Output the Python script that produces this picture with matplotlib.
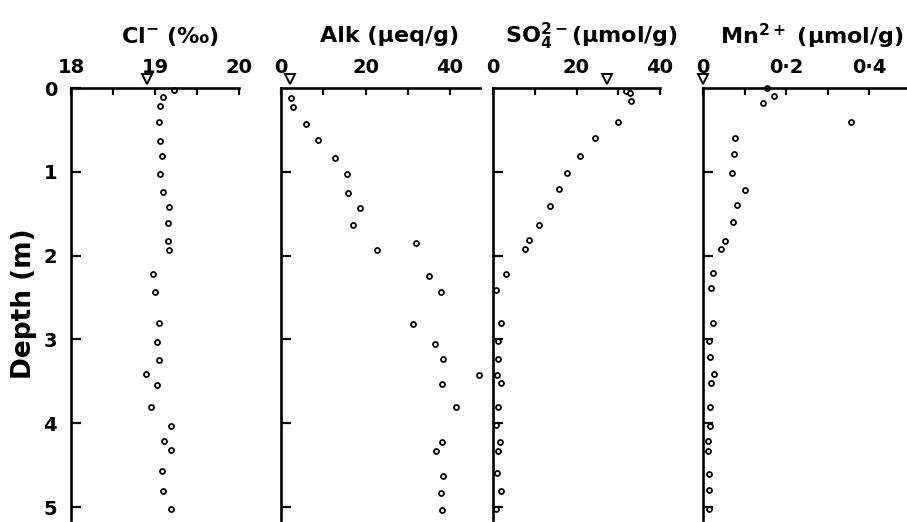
import matplotlib.pyplot as plt

plt.rcParams['font.family'] = ['DejaVu Sans']
plt.rcParams['font.weight'] = 'bold'
plt.rcParams['axes.labelweight'] = 'bold'
plt.rcParams['mathtext.fontset'] = 'dejavusans'
plt.rcParams['mathtext.default'] = 'bf'

# pore water profiles, depth in m
cl_depth = [0.02, 0.11, 0.21, 0.41, 0.63, 0.81, 1.03, 1.24, 1.42, 1.61, 1.83, 1.93,
            2.22, 2.44, 2.81, 3.03, 3.24, 3.41, 3.54, 3.81, 4.03, 4.21, 4.32, 4.57, 4.81, 5.02]
cl_val = [19.23, 19.10, 19.06, 19.05, 19.06, 19.08, 19.06, 19.10, 19.17, 19.15, 19.15, 19.17,
          18.98, 19.00, 19.05, 19.02, 19.05, 18.89, 19.02, 18.95, 19.19, 19.11, 19.19, 19.08, 19.10, 19.19]

alk_depth = [0.12, 0.23, 0.43, 0.62, 0.84, 1.03, 1.25, 1.43, 1.64, 1.85, 1.93,
             2.24, 2.43, 2.82, 3.05, 3.23, 3.43, 3.53, 3.81, 4.22, 4.33, 4.63, 4.83, 5.03]
alk_val = [2.3, 2.9, 5.8, 8.8, 12.8, 15.6, 15.8, 18.6, 17.0, 32.0, 22.8,
           35.0, 37.9, 31.3, 36.4, 38.4, 46.9, 38.1, 41.5, 38.2, 36.6, 38.3, 37.9, 38.0]

so4_depth = [0.03, 0.06, 0.16, 0.40, 0.60, 0.81, 1.01, 1.21, 1.41, 1.63, 1.81, 1.92,
             2.22, 2.41, 2.80, 3.02, 3.23, 3.42, 3.52, 3.81, 4.02, 4.22, 4.33, 4.59, 4.81, 5.02]
so4_val = [31.9, 32.7, 33.0, 29.9, 24.5, 20.9, 17.8, 15.8, 13.7, 10.9, 8.7, 7.7,
           3.0, 0.6, 1.8, 1.2, 1.3, 1.0, 1.9, 1.1, 0.6, 1.6, 1.2, 1.0, 1.8, 0.6]

mn_depth = [0.0, 0.10, 0.18, 0.40, 0.60, 0.79, 1.01, 1.22, 1.40, 1.60, 1.82, 1.92,
            2.21, 2.39, 2.81, 3.02, 3.21, 3.41, 3.52, 3.81, 4.03, 4.21, 4.33, 4.61, 4.80, 5.02]
mn_val = [0.155, 0.170, 0.145, 0.357, 0.078, 0.075, 0.070, 0.100, 0.082, 0.073, 0.053, 0.044,
          0.024, 0.020, 0.025, 0.015, 0.018, 0.026, 0.019, 0.018, 0.018, 0.012, 0.012, 0.014, 0.014, 0.014]

# bottom water values (triangles)
bw_cl = 18.9
bw_alk = 2.2
bw_so4 = 27.3
bw_mn = 0.0

W, H = 907, 522
fig = plt.figure(figsize=(W / 100, H / 100), dpi=100)

panels = [
    # x0, x1 (px), depth, values, bottom water, xlim, ticks, labels, title, title centre
    (71, 239, cl_depth, cl_val, bw_cl, (18, 20), [18, 18.5, 19, 19.5, 20],
     ['18', '', '19', '', '20'], r'Cl$^{-}$ (‰)', 170),
    (281, 480, alk_depth, alk_val, bw_alk, (0, 47.1), [0, 10, 20, 30, 40],
     ['0', '', '20', '', '40'], 'Alk (μeq/g)', 390),
    (493, 660, so4_depth, so4_val, bw_so4, (0, 40), [0, 10, 20, 30, 40],
     ['0', '', '20', '', '40'], r'SO$_4^{2-}$(μmol/g)', 592),
    (703, 907, mn_depth, mn_val, bw_mn, (0, 0.491), [0, 0.1, 0.2, 0.3, 0.4],
     ['0', '', '0·2', '', '0·4'], r'Mn$^{2+}$ (μmol/g)', 812),
]

for i, (x0, x1, dep, val, bw, xlim, ticks, labels, title, tx) in enumerate(panels):
    ax = fig.add_axes([x0 / W, 1 - 520 / H, (x1 - x0) / W, (520 - 88) / H])
    ax.plot(val, dep, 'o', ms=3.6, mfc='white', mec='black', mew=1.3, clip_on=False)
    ax.plot([bw], [-0.11], 'v', ms=7, mfc='white', mec='black', mew=1.4, clip_on=False)
    ax.set_xlim(*xlim)
    ax.set_ylim(5.155, 0)
    for s in ['right', 'bottom']:
        ax.spines[s].set_visible(False)
    for s in ['left', 'top']:
        ax.spines[s].set_linewidth(1.9)
    ax.xaxis.tick_top()
    ax.set_xticks(ticks)
    ax.set_xticklabels(labels)
    ax.tick_params(axis='x', direction='in', length=5, width=1.6, pad=8, labelsize=14)
    if i == 0:
        ax.set_yticks([0, 1, 2, 3, 4, 5])
        ax.tick_params(axis='y', direction='in', length=7, width=1.6, pad=10, labelsize=14)
        ax.set_ylabel('Depth (m)', fontsize=19, fontweight='bold', labelpad=5)
    else:
        ax.set_yticks([1, 2, 3, 4, 5])
        ax.set_yticklabels([])
        ax.tick_params(axis='y', direction='in', length=7, width=1.6)
    fig.text(tx / W, 1 - 36 / H, title, ha='center', va='center', fontsize=16)

fig.savefig('out.png', dpi=100)
